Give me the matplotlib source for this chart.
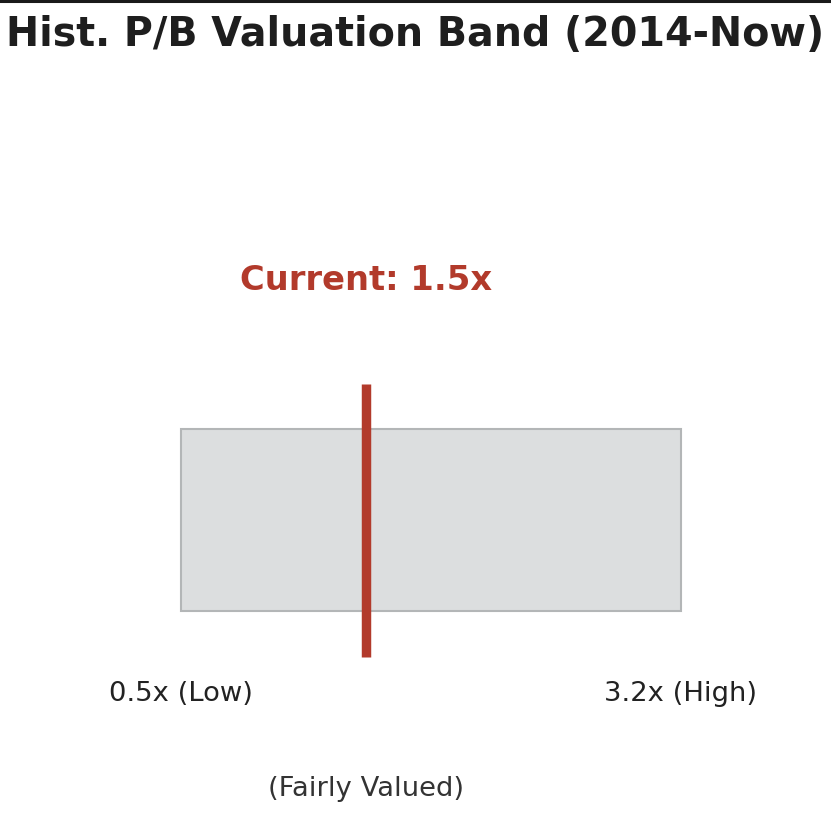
import matplotlib.pyplot as plt
from matplotlib.patches import Rectangle
from matplotlib.lines import Line2D

# valuation band values (P/B multiples)
pb_low = 0.5
pb_high = 3.2
pb_current = 1.5
low_label = "0.5x (Low)"
high_label = "3.2x (High)"
current_label = "Current: 1.5x"
status_label = "(Fairly Valued)"
title = "Hist. P/B Valuation Band (2014-Now)"

red = "#B23A2B"
band_fill = "#DCDEDF"
band_edge = "#B3B6B7"

W, H = 831, 837
fig = plt.figure(figsize=(W / 100, H / 100), dpi=100)
ax = fig.add_axes([0, 0, 1, 1])

# map data so the band spans the right pixels
px_per_unit = 500 / (pb_high - pb_low)
ax.set_xlim(pb_low - 181 / px_per_unit, pb_low + (W - 181) / px_per_unit)
ax.set_ylim((521 - H) / 182, 521 / 182)
ax.axis("off")

ax.add_patch(Rectangle((pb_low, -0.5), pb_high - pb_low, 1.0,
                       facecolor=band_fill, edgecolor=band_edge, linewidth=1.5))
ax.plot([pb_current, pb_current], [-0.755, 0.75], color=red, linewidth=6.8,
        solid_capstyle="butt")

ax.text(pb_current, 1.32, current_label, color=red, fontsize=24.3,
        fontweight="bold", ha="center", va="center")
ax.text(pb_low, -0.95, low_label, color="#222222", fontsize=19.7,
        ha="center", va="center")
ax.text(pb_high, -0.95, high_label, color="#222222", fontsize=19.7,
        ha="center", va="center")
ax.text(pb_current, -1.47, status_label, color="#333333", fontsize=19.7,
        ha="center", va="center")

fig.text(0.5, 1 - 35 / H, title, fontsize=28.5, fontweight="bold",
         color="#1e1e1e", ha="center", va="center")
fig.add_artist(Line2D([0, 1], [1 - 1.5 / H, 1 - 1.5 / H], color="#1a1a1a",
                      linewidth=2.2, transform=fig.transFigure))

fig.savefig("out.png", dpi=100)
